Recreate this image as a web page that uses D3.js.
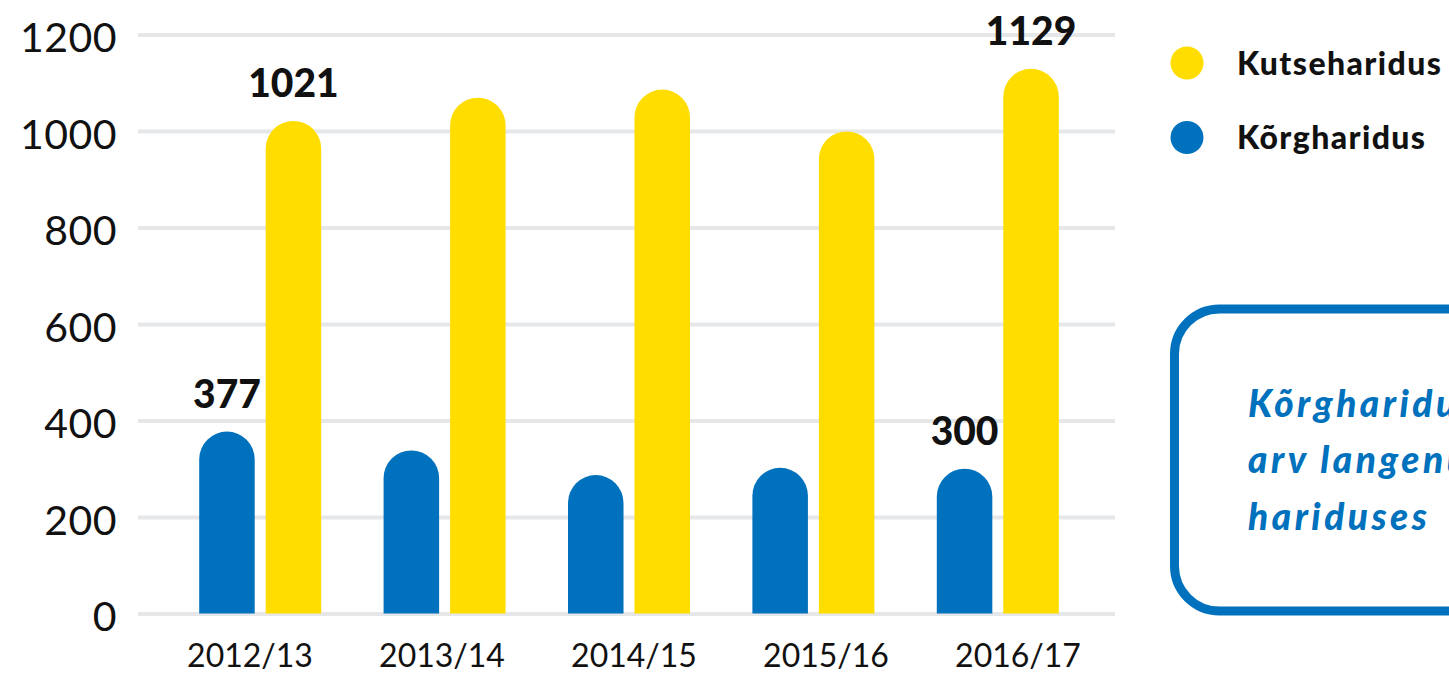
<!DOCTYPE html>
<html>
<head>
<meta charset="utf-8">
<script src="https://cdn.jsdelivr.net/npm/d3@7"></script>
<style>
  body { margin: 0; background: #fff; overflow: hidden; }
  text { font-family: Lato, "Open Sans", sans-serif; }
  .grid line { stroke: #e6e7e9; stroke-width: 4; }
  .grid path { display: none; }
</style>
</head>
<body>
<svg width="1449" height="673"></svg>
<script>
// values (labelled ones are exact)
let years = ["2012/13", "2013/14", "2014/15", "2015/16", "2016/17"];
let korgharidus = [377, 338, 287, 302, 300];
let kutseharidus = [1021, 1069, 1086, 999, 1129];
let yTicks = [0, 200, 400, 600, 800, 1000, 1200];
let series = ["Kõrgharidus", "Kutseharidus"];
let legendOrder = ["Kutseharidus", "Kõrgharidus"];
let colors = { "Kõrgharidus": "#0071bc", "Kutseharidus": "#ffdd00" };
let labelled = [0, 4]; // first and last year get value labels
let noteLines = ["Kõrghariduse", "arv langenud,", "hariduses"];

let svg = d3.select("svg");
let plotL = 138, plotR = 1115, plotT = 34.5, plotB = 613.5;

let y = d3.scaleLinear().domain([0, 1200]).range([plotB, plotT]);
let x0 = d3.scaleBand().domain(years).range([168, 1090]);
let x1 = d3.scaleBand().domain(series).range([-61, 61]).paddingInner(0.165);
let xLab = d3.scaleBand().domain(years).range([154, 1114]);

// gridlines + y labels
let gy = svg.append("g")
    .classed("grid", true)
    .attr("transform", "translate(" + plotL + ",0)")
    .call(d3.axisLeft(y).tickValues(yTicks).tickFormat(d3.format("d"))
        .tickSize(-(plotR - plotL)).tickPadding(21));
gy.selectAll("text")
    .attr("dy", "0.42em")
    .style("font-size", "41px")
    .style("letter-spacing", "0.5px")
    .attr("fill", "#111");

// x labels
let gx = svg.append("g")
    .attr("transform", "translate(0," + plotB + ")")
    .call(d3.axisBottom(xLab).tickSize(0).tickPadding(31));
gx.select(".domain").remove();
gx.selectAll("text")
    .style("font-size", "32px")
    .attr("fill", "#111");

// rounded-top bar
function pill(x, yTop, w) {
    let r = w / 2;
    return "M" + x + "," + plotB + "V" + (yTop + r) +
        "A" + r + "," + r + " 0 0 1 " + (x + w) + "," + (yTop + r) +
        "V" + plotB + "Z";
}

let rows = years.map((yr, i) => ({
    year: yr, i: i,
    vals: [{ key: "Kõrgharidus", v: korgharidus[i] }, { key: "Kutseharidus", v: kutseharidus[i] }]
}));

let groups = svg.selectAll(".grp")
    .data(rows)
    .enter().append("g")
    .attr("transform", d => "translate(" + (x0(d.year) + x0.bandwidth() / 2) + ",0)");

groups.selectAll("path")
    .data(d => d.vals)
    .enter().append("path")
    .attr("d", d => pill(x1(d.key), y(d.v), x1.bandwidth()))
    .attr("fill", d => colors[d.key]);

groups.filter(d => labelled.includes(d.i))
    .selectAll(".val")
    .data(d => d.vals)
    .enter().append("text")
    .attr("x", d => x1(d.key) + x1.bandwidth() / 2)
    .attr("y", d => y(d.v) - 24)
    .attr("text-anchor", "middle")
    .style("font-size", "39px")
    .style("font-weight", 900)
    .attr("fill", "#111")
    .text(d => d.v);

// legend
let leg = svg.selectAll(".leg")
    .data(legendOrder)
    .enter().append("g")
    .attr("transform", (d, i) => "translate(1187," + (63 + i * 74.5) + ")");
leg.append("circle").attr("r", 16.5).attr("fill", d => colors[d]);
leg.append("text")
    .attr("x", 50)
    .attr("dy", "0.36em")
    .style("font-size", "32px")
    .style("font-weight", 900)
    .style("letter-spacing", "1.4px")
    .attr("fill", "#111")
    .text(d => d);

// note box (runs off the right edge, as in the original)
svg.append("rect")
    .attr("x", 1174.5).attr("y", 309)
    .attr("width", 420).attr("height", 302)
    .attr("rx", 45)
    .attr("fill", "none")
    .attr("stroke", "#0071bc")
    .attr("stroke-width", 9);

svg.selectAll(".note")
    .data(noteLines)
    .enter().append("text")
    .attr("x", 1248)
    .attr("y", (d, i) => 416.5 + i * 56.7)
    .style("font-size", "37px")
    .style("font-weight", 900)
    .style("font-style", "italic")
    .style("letter-spacing", "3.5px")
    .attr("fill", "#0071bc")
    .text(d => d);
</script>
</body>
</html>
